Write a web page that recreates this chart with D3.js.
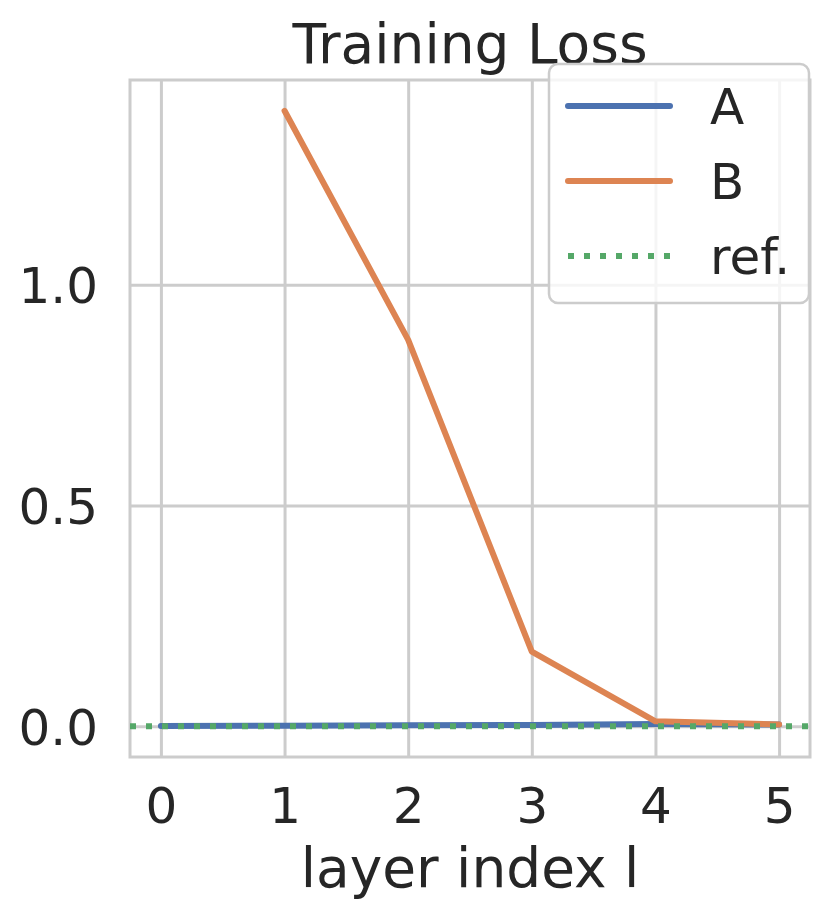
<!DOCTYPE html>
<html><head><meta charset="utf-8">
<script src="https://cdn.jsdelivr.net/npm/d3@7"></script>
<style>body{margin:0;background:#fff}svg{display:block}text{font-family:"DejaVu Sans",sans-serif;fill:#262626}</style>
</head><body>
<script>
const layers = [0, 1, 2, 3, 4, 5];
const seriesA = [0.0005, 0.001, 0.002, 0.003, 0.005, 0.004];
const seriesB = [null, 1.394, 0.875, 0.169, 0.011, 0.004];
const refValue = 0;
const xTicks = [0, 1, 2, 3, 4, 5];
const yTicks = [0.0, 0.5, 1.0];
const seriesNames = ["A", "B", "ref."];
const colors = ["#4c72b0", "#dd8452", "#55a868"];

const W = 832, H = 922;
const L = 130, R = 810, T = 80, B = 757;
const svg = d3.select("body").append("svg").attr("width", W).attr("height", H);

const x = d3.scaleLinear().domain([-0.25, 5.25]).range([L, R]);
const yMax = 1.394, pad = yMax * 0.05;
const y = d3.scaleLinear().domain([-pad, yMax + pad]).range([B, T]);

// grid
const gx = svg.append("g").attr("transform", `translate(0,${B})`)
  .call(d3.axisBottom(x).tickValues(xTicks).tickSize(-(B - T)).tickFormat(d3.format("d")));
const gy = svg.append("g").attr("transform", `translate(${L},0)`)
  .call(d3.axisLeft(y).tickValues(yTicks).tickSize(-(R - L)).tickFormat(d3.format(".1f")));
[gx, gy].forEach(g => {
  g.select(".domain").remove();
  g.selectAll(".tick line").attr("stroke", "#cccccc").attr("stroke-width", 3);
  g.selectAll(".tick text").attr("font-size", 50).attr("fill", "#262626").attr("font-family", "DejaVu Sans");
});
gx.selectAll(".tick text").attr("y", 66).attr("dy", 0);
gy.selectAll(".tick text").attr("x", -32).attr("dy", "0.36em");

svg.append("rect").attr("x", L).attr("y", T).attr("width", R - L).attr("height", B - T)
  .attr("fill", "none").attr("stroke", "#cccccc").attr("stroke-width", 3);

const line = d3.line().defined(d => d[1] !== null).x(d => x(d[0])).y(d => y(d[1]));
svg.append("path").datum(layers.map((l, i) => [l, seriesA[i]]))
  .attr("d", line).attr("fill", "none").attr("stroke", colors[0]).attr("stroke-width", 6).attr("stroke-linecap", "round");
svg.append("path").datum(layers.map((l, i) => [l, seriesB[i]]))
  .attr("d", line).attr("fill", "none").attr("stroke", colors[1]).attr("stroke-width", 6).attr("stroke-linecap", "round").attr("stroke-linejoin", "round");
svg.append("line").attr("x1", L).attr("x2", R).attr("y1", y(refValue)).attr("y2", y(refValue))
  .attr("stroke", colors[2]).attr("stroke-width", 6).attr("stroke-dasharray", "6,10");

// title & labels
svg.append("text").attr("x", (L + R) / 2).attr("y", 63).attr("text-anchor", "middle").attr("font-size", 55).text("Training Loss");
svg.append("text").attr("x", (L + R) / 2).attr("y", 887).attr("text-anchor", "middle").attr("font-size", 55).text("layer index l");

// legend
const lg = svg.append("g");
lg.append("rect").attr("x", 549).attr("y", 64).attr("width", 260).attr("height", 239).attr("rx", 9)
  .attr("fill", "rgba(255,255,255,0.8)").attr("stroke", "#cccccc").attr("stroke-width", 2.5);
const legY = [106, 181, 256];
seriesNames.forEach((n, i) => {
  const ln = lg.append("line").attr("x1", 568).attr("x2", 670).attr("y1", legY[i]).attr("y2", legY[i])
    .attr("stroke", colors[i]).attr("stroke-width", 6);
  if (i === 2) ln.attr("stroke-dasharray", "6,10");
  else ln.attr("stroke-linecap", "round");
  lg.append("text").attr("x", 710).attr("y", legY[i]).attr("dy", "0.36em").attr("font-size", 50).text(n);
});
</script>
</body></html>
